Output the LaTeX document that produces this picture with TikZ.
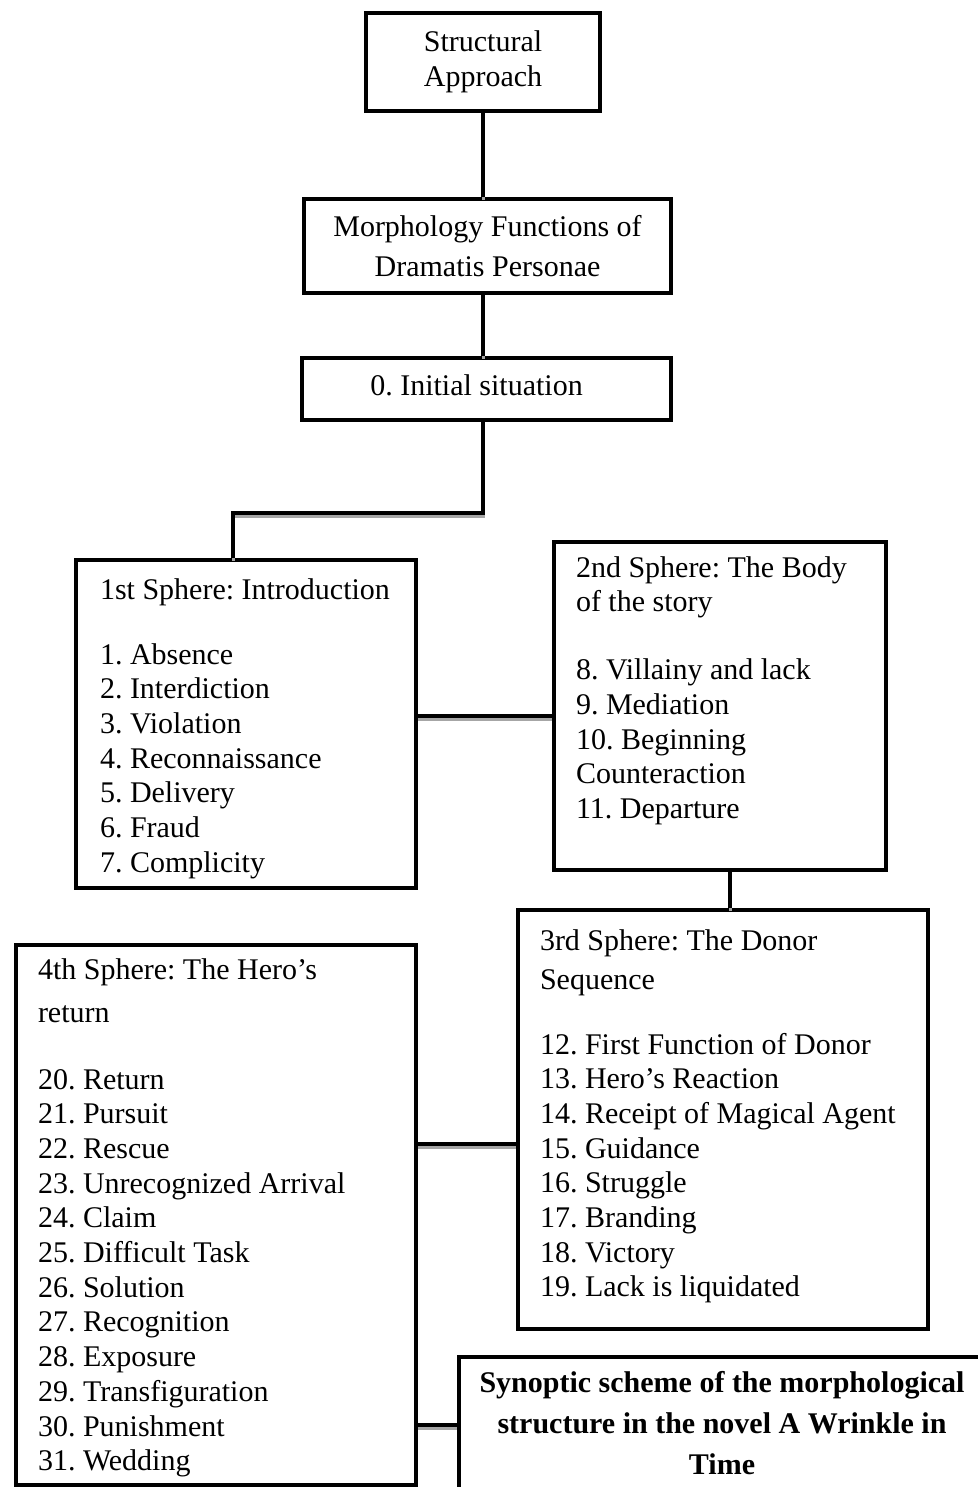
\documentclass[tikz,border=0pt]{standalone}
\usepackage{fontspec}
\setmainfont{Liberation Serif}
\usepackage{tikz}
\usetikzlibrary{positioning,calc}
\frenchspacing
\tikzset{
  headbox/.style={rectangle, draw, line width=4pt, align=center, inner sep=0pt},
  sphere/.style={rectangle, draw, line width=4pt, anchor=north west, inner ysep=0pt, inner xsep=22pt},
  link/.style={line width=4pt, preaction={draw, black!35, line width=3pt, transform canvas={yshift=-3pt}}}
}
% height, width, first line height, lines
\newcommand{\spheretext}[4]{\begin{minipage}[t][#1][t]{#2}\raggedright\rule{0pt}{#3}#4\end{minipage}}

\begin{document}
\begin{tikzpicture}[x=1pt, y=-1pt, font=\fontsize{30}{34.7}\selectfont]
  \useasboundingbox (0,0) rectangle (977,1487);
  \node[headbox, minimum width=234pt, minimum height=98pt] (A) at (483,62) {Structural\\Approach};
  \node[headbox, minimum width=367pt, minimum height=94pt] (B) at (487.5,246) {Morphology Functions of\\[5pt]Dramatis Personae};
  \node[headbox, minimum width=369pt, minimum height=62pt, text depth=8pt] (C) at (486.5,389) {0. Initial situation\hspace*{20pt}};
  \node[sphere, inner xsep=24pt] (D) at (74,558) {\spheretext{328pt}{292pt}{39pt}{1st Sphere: Introduction\\[30.3pt]
    1. Absence\\ 2. Interdiction\\ 3. Violation\\ 4. Reconnaissance\\ 5. Delivery\\ 6. Fraud\\ 7. Complicity}};
  \node[sphere] (E) at (552,540) {\spheretext{328pt}{288pt}{35pt}{2nd Sphere: The Body\\ of the story\\[33.3pt]
    8. Villainy and lack\\ 9. Mediation\\ 10. Beginning\\ Counteraction\\ 11. Departure}};
  \node[sphere] (F) at (516,908) {\spheretext{419pt}{366pt}{40pt}{3rd Sphere: The Donor\\[4.3pt] Sequence\\[30.3pt]
    12. First Function of Donor\\ 13. Hero's Reaction\\ 14. Receipt of Magical Agent\\ 15. Guidance\\
    16. Struggle\\ 17. Branding\\ 18. Victory\\ 19. Lack is liquidated}};
  \node[sphere] (G) at (14,943) {\spheretext{540pt}{356pt}{34pt}{4th Sphere: The Hero's\\[8.3pt] return\\[32.3pt]
    20. Return\\ 21. Pursuit\\ 22. Rescue\\ 23. Unrecognized Arrival\\ 24. Claim\\ 25. Difficult Task\\
    26. Solution\\ 27. Recognition\\ 28. Exposure\\ 29. Transfiguration\\ 30. Punishment\\ 31. Wedding}};
  \node[sphere, inner xsep=0pt] (H) at (457,1355) {\begin{minipage}[t][150pt][t]{526pt}\centering\bfseries
    \rule{0pt}{35pt}Synoptic scheme of the morphological\\[6.3pt] structure in the novel A Wrinkle in\\[6.3pt] Time\end{minipage}};
  \coordinate (turn) at (233,513);
  \coordinate (row1) at (480,716);
  \coordinate (col1) at (730,890);
  \coordinate (row2) at (460,1144);
  \coordinate (row3) at (440,1425);
  \draw[link] (A.south) -- (A.south |- B.north);
  \draw[link] (B.south -| A.south) -- (A.south |- C.north);
  \draw[link] (C.south -| A.south) |- (turn) -- (turn |- D.north);
  \draw[link] (row1 -| D.east) -- (row1 -| E.west);
  \draw[link] (col1 |- E.south) -- (col1 |- F.north);
  \draw[link] (row2 -| G.east) -- (row2 -| F.west);
  \draw[link] (row3 -| G.east) -- (row3 -| H.west);
\end{tikzpicture}
\end{document}
